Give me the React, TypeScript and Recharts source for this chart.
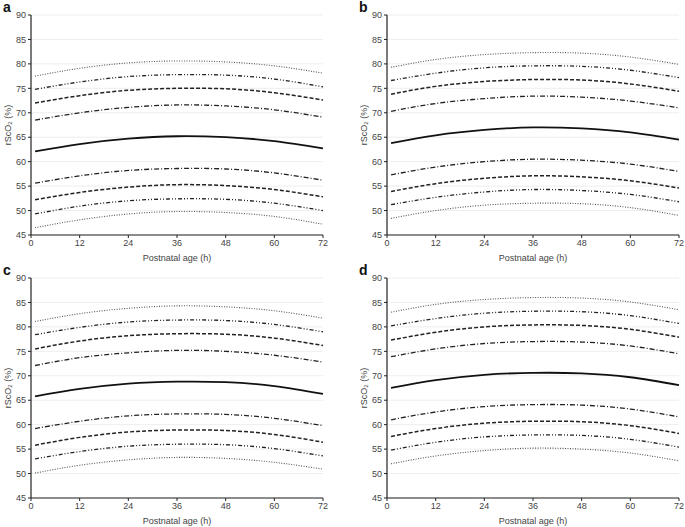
import { CartesianGrid, Label, Line, LineChart, XAxis, YAxis } from "recharts";

const hours = [1, 12, 24, 36, 48, 60, 72];
const xTicks = [0, 12, 24, 36, 48, 60, 72];
const yTicks = [45, 50, 55, 60, 65, 70, 75, 80, 85, 90];

// nine percentile curves per panel, top to bottom
const panelA = [
  [77.5, 79.1, 80.2, 80.6, 80.4, 79.6, 78.1],
  [74.8, 76.3, 77.4, 77.8, 77.7, 76.9, 75.3],
  [72.0, 73.5, 74.6, 75.0, 74.9, 74.1, 72.6],
  [68.5, 70.0, 71.1, 71.6, 71.4, 70.6, 69.1],
  [62.1, 63.6, 64.7, 65.2, 65.0, 64.2, 62.7],
  [55.6, 57.1, 58.2, 58.6, 58.5, 57.7, 56.2],
  [52.2, 53.7, 54.8, 55.3, 55.1, 54.3, 52.8],
  [49.3, 50.9, 52.0, 52.4, 52.3, 51.5, 50.0],
  [46.5, 48.1, 49.3, 49.8, 49.6, 48.8, 47.2],
];
const panelB = [
  [79.3, 80.9, 81.9, 82.3, 82.2, 81.4, 79.9],
  [76.6, 78.1, 79.2, 79.6, 79.5, 78.7, 77.2],
  [73.8, 75.4, 76.4, 76.8, 76.7, 75.9, 74.4],
  [70.3, 71.9, 72.9, 73.4, 73.2, 72.4, 71.0],
  [63.8, 65.4, 66.5, 67.0, 66.8, 66.0, 64.5],
  [57.3, 58.9, 60.0, 60.5, 60.3, 59.5, 58.0],
  [53.9, 55.5, 56.6, 57.1, 56.9, 56.1, 54.6],
  [51.2, 52.7, 53.8, 54.3, 54.1, 53.3, 51.8],
  [48.4, 50.0, 51.1, 51.5, 51.4, 50.6, 49.0],
];
const panelC = [
  [81.1, 82.7, 83.8, 84.3, 84.1, 83.3, 81.8],
  [78.4, 79.9, 81.0, 81.4, 81.3, 80.5, 79.0],
  [75.5, 77.1, 78.2, 78.6, 78.5, 77.7, 76.2],
  [72.1, 73.7, 74.7, 75.2, 75.0, 74.2, 72.8],
  [65.8, 67.3, 68.4, 68.8, 68.7, 67.9, 66.3],
  [59.2, 60.7, 61.8, 62.2, 62.1, 61.3, 59.8],
  [55.8, 57.4, 58.5, 58.9, 58.8, 58.0, 56.4],
  [53.0, 54.5, 55.6, 56.0, 55.9, 55.1, 53.6],
  [50.1, 51.7, 52.8, 53.3, 53.1, 52.3, 50.9],
];
const panelD = [
  [83.0, 84.6, 85.6, 86.0, 85.9, 85.1, 83.5],
  [80.2, 81.7, 82.8, 83.2, 83.1, 82.3, 80.7],
  [77.3, 78.9, 80.0, 80.4, 80.3, 79.5, 77.9],
  [73.9, 75.5, 76.6, 77.0, 76.9, 76.1, 74.5],
  [67.5, 69.1, 70.2, 70.6, 70.5, 69.7, 68.1],
  [61.0, 62.6, 63.7, 64.1, 64.0, 63.2, 61.6],
  [57.6, 59.2, 60.3, 60.7, 60.6, 59.8, 58.2],
  [54.8, 56.4, 57.5, 57.9, 57.8, 57.0, 55.4],
  [52.0, 53.6, 54.7, 55.2, 55.0, 54.2, 52.6],
];

// line style per curve index
const styles = [
  { dash: "1 1.5", width: 1.1, color: "#555" },
  { dash: "4 2 1 2 1 2", width: 1.3, color: "#222" },
  { dash: "4 2", width: 1.5, color: "#222" },
  { dash: "5 2 1 2", width: 1.3, color: "#222" },
  { dash: undefined, width: 1.8, color: "#111" },
  { dash: "5 2 1 2", width: 1.3, color: "#222" },
  { dash: "4 2", width: 1.5, color: "#222" },
  { dash: "4 2 1 2 1 2", width: 1.3, color: "#222" },
  { dash: "1 1.5", width: 1.1, color: "#555" },
];

const font = "'Liberation Sans', Arial, sans-serif";
const tick = { fontSize: 9, fill: "#444", fontFamily: font };

function YTitle({ viewBox }: any) {
  const cx = 8;
  const cy = viewBox.y + viewBox.height / 2;
  return (
    <text
      transform={`rotate(-90, ${cx}, ${cy})`}
      x={cx}
      y={cy}
      textAnchor="middle"
      dominantBaseline="central"
      fontSize={9}
      fill="#444"
      fontFamily={font}
    >
      rScO<tspan fontSize={6} dy={2}>2</tspan>
      <tspan dy={-2}> (%)</tspan>
    </text>
  );
}

function Panel({ rows, letter, left, top }: { rows: number[][]; letter: string; left: number; top: number }) {
  const data = hours.map((h, i) => {
    const d: Record<string, number> = { h };
    rows.forEach((r, k) => (d["c" + k] = r[i]));
    return d;
  });
  return (
    <div style={{ position: "absolute", left, top, width: 330, height: 270 }}>
      <LineChart width={330} height={270} data={data} margin={{ top: 15, right: 7, bottom: 8, left: 7 }}>
        <CartesianGrid vertical={false} stroke="#eeeeee" />
        <XAxis
          dataKey="h"
          type="number"
          domain={[0, 72]}
          ticks={xTicks}
          height={27}
          tick={tick}
          tickSize={3}
          stroke="#222"
          axisLine={{ stroke: "#222", strokeWidth: 1.2 }}
        >
          <Label value="Postnatal age (h)" position="insideBottom" offset={1} fontSize={9} fill="#444" fontFamily={font} />
        </XAxis>
        <YAxis
          domain={[45, 90]}
          ticks={yTicks}
          width={24}
          tick={tick}
          tickSize={3}
          stroke="#222"
          axisLine={{ stroke: "#222", strokeWidth: 1.2 }}
          interval={0}
        >
          <Label content={<YTitle />} />
        </YAxis>
        {rows.map((_, k) => (
          <Line
            key={k}
            dataKey={"c" + k}
            type="natural"
            dot={false}
            stroke={styles[k].color}
            strokeWidth={styles[k].width}
            strokeDasharray={styles[k].dash}
            isAnimationActive={false}
          />
        ))}
      </LineChart>
      <div
        style={{
          position: "absolute",
          left: 3,
          top: 0,
          fontFamily: font,
          fontWeight: "bold",
          fontSize: 14,
          lineHeight: "14px",
          color: "#111",
        }}
      >
        {letter}
      </div>
    </div>
  );
}

export default function App() {
  return (
    <div style={{ position: "absolute", left: 0, top: 0, width: 685, height: 527, background: "#fff" }}>
      <Panel rows={panelA} letter="a" left={0} top={0} />
      <Panel rows={panelB} letter="b" left={356} top={0} />
      <Panel rows={panelC} letter="c" left={0} top={263} />
      <Panel rows={panelD} letter="d" left={356} top={263} />
    </div>
  );
}
